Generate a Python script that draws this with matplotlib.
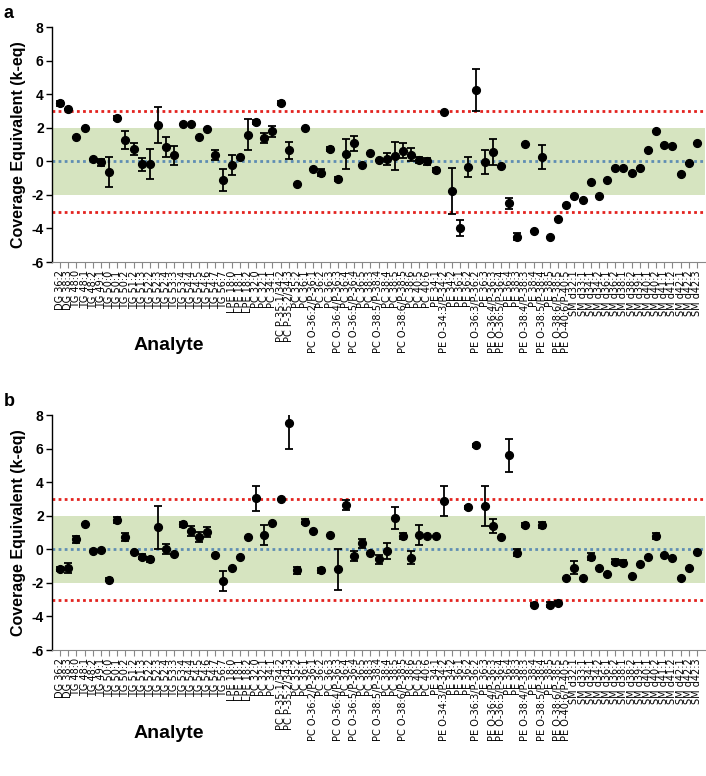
import numpy as np
import matplotlib
matplotlib.use("Agg")
import matplotlib.pyplot as plt

plt.rcParams['font.family'] = ['Liberation Sans', 'DejaVu Sans']

analytes = [
    "DG 36:2", "DG 38:3",
    "TG 48:0", "TG 48:1", "TG 48:2", "TG 49:1", "TG 50:0", "TG 50:1", "TG 50:2",
    "TG 51:2", "TG 51:3", "TG 52:2", "TG 52:3", "TG 52:4", "TG 53:3", "TG 53:4",
    "TG 54:4", "TG 54:5", "TG 54:6", "TG 54:7", "TG 56:7",
    "LPE 18:0", "LPE 18:1", "LPE 18:2",
    "PC 32:0", "PC 32:1", "PC 34:1", "PC P-35:1/34:2", "PC P-35:2/34:3", "PC 35:2",
    "PC 36:1", "PC O-36:2/P-36:1", "PC 36:2", "PC 36:3", "PC O-36:4/P-36:3", "PC 36:4",
    "PC O-36:5/P-36:4", "PC 36:5", "PC 38:3", "PC O-38:5/P-38:4", "PC 38:4", "PC 38:5",
    "PC O-38:6/P-38:5", "PC 38:6", "PC 40:5", "PC 40:6",
    "PE 34:1", "PE O-34:3/P-34:2", "PE 34:2", "PE 36:1", "PE 36:2", "PE O-36:3/P-36:2",
    "PE 36:3", "PE O-36:4/P-36:3", "PE O-36:5/P-36:4", "PE 36:4", "PE 38:3",
    "PE O-38:4/P-38:3", "PE 38:4", "PE O-38:5/P-38:4", "PE 38:5", "PE O-38:6/P-38:5",
    "PE O-40:6/P-40:5",
    "SM d32:1", "SM d33:1", "SM d34:1", "SM d34:2", "SM d36:1", "SM d36:2", "SM d38:1",
    "SM d38:2", "SM d39:1", "SM d40:1", "SM d40:2", "SM d41:1", "SM d41:2", "SM d42:1",
    "SM d42:2", "SM d42:3",
]

keq_a = [
    3.45, 3.11, 1.46, 1.96, 0.16, -0.06, -0.64, 2.59, 1.27, 0.71,
    -0.18, -0.16, 2.16, 0.85, 0.36, 2.24, 2.20, 1.46, 1.94, 0.37,
    -1.11, -0.20, 0.27, 1.58, 2.34, 1.40, 1.78, 3.50, 0.65, -1.33,
    2.00, -0.48, -0.68, 0.75, -1.03, 0.42, 1.07, -0.22, 0.49, 0.08,
    0.13, 0.31, 0.63, 0.39, 0.08, 0.00, -0.50, 2.93, -1.77, -3.98,
    -0.36, 4.26, -0.04, 0.55, -0.28, -2.50, -4.50, 1.01, -4.15, 0.26,
    -4.50, -3.45, -2.62, -2.08, -2.32, -1.25, -2.04, -1.11, -0.42, -0.38,
    -0.68, -0.42, 0.69, 1.80, 0.99, 0.93, -0.77, -0.12, 1.11,
]
err_a = [
    0.15, 0.0, 0.0, 0.0, 0.0, 0.2, 0.87, 0.12, 0.53, 0.36,
    0.40, 0.87, 1.07, 0.60, 0.57, 0.0, 0.0, 0.0, 0.0, 0.28,
    0.65, 0.60, 0.0, 0.93, 0.12, 0.30, 0.32, 0.12, 0.52, 0.0,
    0.0, 0.0, 0.20, 0.12, 0.12, 0.90, 0.43, 0.0, 0.0, 0.0,
    0.37, 0.82, 0.43, 0.38, 0.20, 0.20, 0.12, 0.0, 1.37, 0.50,
    0.60, 1.24, 0.73, 0.80, 0.0, 0.34, 0.20, 0.0, 0.0, 0.74,
    0.0, 0.0, 0.0, 0.0, 0.0, 0.0, 0.0, 0.0, 0.0, 0.0,
    0.0, 0.0, 0.0, 0.0, 0.0, 0.0, 0.0, 0.0, 0.0,
]

keq_b = [
    -1.20, -1.10, 0.60, 1.50, -0.10, -0.05, -1.80, 1.75, 0.75, -0.15,
    -0.45, -0.60, 1.30, 0.00, -0.30, 1.50, 1.10, 0.75, 1.05, -0.35,
    -1.90, -1.10, -0.45, 0.75, 3.05, 0.85, 1.55, 3.00, 7.50, -1.25,
    1.65, 1.10, -1.25, 0.85, -1.20, 2.65, -0.40, 0.35, -0.25, -0.60,
    -0.10, 1.85, 0.80, -0.50, 0.85, 0.80, 0.80, 2.90, np.nan, np.nan,
    2.50, 6.20, 2.60, 1.40, 0.75, 5.60, -0.20, 1.45, -3.30, 1.45,
    -3.30, -3.20, -1.70, -1.10, -1.70, -0.45, -1.10, -1.50, -0.75, -0.80,
    -1.60, -0.90, -0.45, 0.80, -0.35, -0.50, -1.70, -1.10, -0.15,
]
err_b = [
    0.12, 0.30, 0.20, 0.0, 0.0, 0.0, 0.10, 0.20, 0.25, 0.0,
    0.15, 0.15, 1.30, 0.30, 0.0, 0.15, 0.30, 0.30, 0.30, 0.0,
    0.60, 0.0, 0.0, 0.0, 0.75, 0.60, 0.0, 0.0, 1.50, 0.20,
    0.15, 0.0, 0.15, 0.0, 1.20, 0.30, 0.30, 0.25, 0.0, 0.25,
    0.50, 0.65, 0.20, 0.40, 0.60, 0.0, 0.0, 0.90, 0.0, 0.0,
    0.10, 0.10, 1.20, 0.40, 0.0, 1.00, 0.20, 0.12, 0.10, 0.20,
    0.15, 0.10, 0.0, 0.40, 0.0, 0.20, 0.0, 0.0, 0.15, 0.15,
    0.0, 0.0, 0.0, 0.20, 0.0, 0.0, 0.0, 0.0, 0.0,
]

yticks = [-6, -4, -2, 0, 2, 4, 6, 8]

W, H = 706, 776
fig = plt.figure(figsize=(W / 100, H / 100), dpi=100)

panels = [
    ("a", keq_a, err_a, 27, 262, 345),
    ("b", keq_b, err_b, 415, 650, 733),
]

x = np.arange(len(analytes))
for letter, vals, errs, top, bottom, ylab in panels:
    left, right = 52, 705
    ax = fig.add_axes([left / W, 1 - bottom / H, (right - left) / W, (bottom - top) / H])
    ax.axhspan(-2, 2, color="#d6e4c0", zorder=0, lw=0)
    ax.axhline(3, color="#e3231f", ls=(0, (1, 1.2)), lw=2.0, zorder=1)
    ax.axhline(-3, color="#e3231f", ls=(0, (1, 1.2)), lw=2.0, zorder=1)
    ax.axhline(0, color="#5f8db3", ls=(0, (1, 1.2)), lw=2.0, zorder=1)
    ax.errorbar(x, vals, yerr=errs, fmt="o", color="black", ms=5.6,
                ecolor="black", elinewidth=1.3, capsize=2.6, capthick=1.3, zorder=3)
    ax.set_xlim(-1, len(analytes))
    ax.set_ylim(-6, 8)
    ax.set_yticks(yticks)
    ax.set_yticklabels([str(t) for t in yticks], fontsize=10, fontweight="bold")
    ax.set_xticks(x)
    ax.set_xticklabels(analytes, rotation=90, fontsize=7.0, ha="center", va="top",
                       family=["DejaVu Sans"])
    ax.tick_params(axis="x", length=4, width=0.8, color="#888888", pad=2)
    ax.tick_params(axis="y", length=4, width=1.0, pad=2)
    ax.spines["top"].set_visible(False)
    ax.spines["right"].set_visible(False)
    ax.spines["bottom"].set_color("#888888")
    ax.spines["left"].set_linewidth(1.0)
    ax.set_ylabel("Coverage Equivalent (k-eq)", fontsize=11.5, fontweight="bold", labelpad=4)
    fig.text(169 / W, 1 - ylab / H, "Analyte", fontsize=14, fontweight="bold",
             ha="center", va="center")
    fig.text(4 / W, 1 - (top - 22) / H, letter, fontsize=13, fontweight="bold",
             ha="left", va="top")

fig.savefig("out.png", dpi=100)
